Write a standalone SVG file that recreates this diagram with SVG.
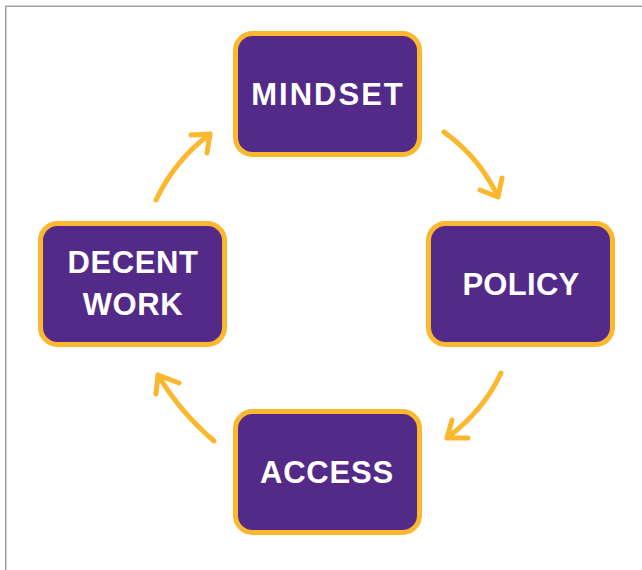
<svg xmlns="http://www.w3.org/2000/svg" width="642" height="570" viewBox="0 0 642 570">
<style>
.box{fill:#532A87;stroke:#FBB82F;stroke-width:5}
.lbl{font-family:"Liberation Sans",Arial,sans-serif;font-weight:bold;font-size:31px;fill:#FFFFFF;text-anchor:middle}
.arr{fill:none;stroke:#FBB82F;stroke-width:5;stroke-linecap:round;stroke-linejoin:round}
</style>
<rect width="642" height="570" fill="#FFFFFF"/>
<path d="M5.75 570 V6.25 H642" fill="none" stroke="#A0A0A0" stroke-width="1.5"/>
<g id="mindset">
<rect class="box" x="235.5" y="33.5" width="184" height="121" rx="17"/>
<text class="lbl" x="328" y="105" letter-spacing="2">MINDSET</text>
</g>
<g id="policy">
<rect class="box" x="428.5" y="223.5" width="184" height="121" rx="17"/>
<text class="lbl" x="521" y="295" letter-spacing="0.3">POLICY</text>
</g>
<g id="access">
<rect class="box" x="235.5" y="411.5" width="184" height="121" rx="17"/>
<text class="lbl" x="327" y="483" letter-spacing="0.8">ACCESS</text>
</g>
<g id="decent-work">
<rect class="box" x="40.5" y="223.5" width="184" height="121" rx="17"/>
<text class="lbl" x="133" y="273" letter-spacing="0.6">DECENT</text>
<text class="lbl" x="133" y="315" letter-spacing="0.6">WORK</text>
</g>
<g id="connectors">
<path class="arr" d="M156 200 Q175 160 210 134 M191 135 L210 134 L207 153"/>
<path class="arr" d="M444 132 Q480 158 498 197 M480 190 L498 197 L502 178"/>
<path class="arr" d="M501 373 Q484 410 447 438 M452 420 L447 438 L468 438"/>
<path class="arr" d="M214 441 Q180 412 158 375 M156 394 L158 375 L179 383"/>
</g>
</svg>
